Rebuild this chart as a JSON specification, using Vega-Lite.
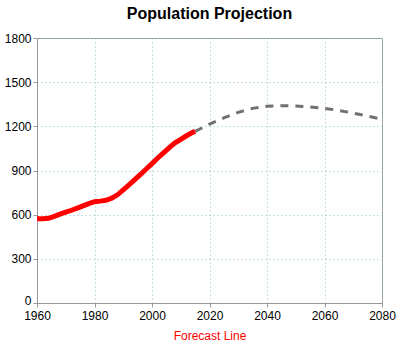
{
  "$schema": "https://vega.github.io/schema/vega-lite/v6.json",
  "autosize": "none",
  "padding": {"left": 37, "top": 38, "right": 18, "bottom": 47},
  "width": 345,
  "height": 265,
  "title": {"text": "Population Projection", "font": "Liberation Sans", "fontSize": 16, "fontWeight": "bold", "color": "#000", "offset": 10},
  "config": {
    "view": {"stroke": "#999999", "strokeWidth": 1},
    "axis": {"labelFont": "Liberation Sans", "labelFontSize": 12, "labelColor": "#000", "domainColor": "#999999", "tickColor": "#999999", "tickSize": 4, "gridColor": "#8fc9c9", "gridDash": [1, 3], "gridWidth": 1}
  },
  "datasets": {
    "hist": [
      {"year": 1960, "pop": 573}, {"year": 1962, "pop": 573}, {"year": 1964, "pop": 575},
      {"year": 1966, "pop": 588}, {"year": 1968, "pop": 604}, {"year": 1970, "pop": 617},
      {"year": 1972, "pop": 630}, {"year": 1974, "pop": 645}, {"year": 1976, "pop": 660},
      {"year": 1978, "pop": 675}, {"year": 1980, "pop": 688}, {"year": 1982, "pop": 692},
      {"year": 1984, "pop": 698}, {"year": 1986, "pop": 712}, {"year": 1988, "pop": 735},
      {"year": 1990, "pop": 768}, {"year": 1992, "pop": 802}, {"year": 1994, "pop": 838},
      {"year": 1996, "pop": 873}, {"year": 1998, "pop": 910}, {"year": 2000, "pop": 947},
      {"year": 2002, "pop": 985}, {"year": 2004, "pop": 1020}, {"year": 2006, "pop": 1055},
      {"year": 2008, "pop": 1088}, {"year": 2010, "pop": 1112}, {"year": 2012, "pop": 1136},
      {"year": 2014, "pop": 1158}, {"year": 2015, "pop": 1166}
    ],
    "forecast": [
      {"year": 2015, "pop": 1166}, {"year": 2020, "pop": 1215}, {"year": 2025, "pop": 1258},
      {"year": 2030, "pop": 1295}, {"year": 2035, "pop": 1322}, {"year": 2040, "pop": 1336},
      {"year": 2045, "pop": 1340}, {"year": 2050, "pop": 1338}, {"year": 2055, "pop": 1332},
      {"year": 2060, "pop": 1322}, {"year": 2065, "pop": 1308}, {"year": 2070, "pop": 1290},
      {"year": 2075, "pop": 1270}, {"year": 2080, "pop": 1248}
    ]
  },
  "encoding": {
    "x": {"field": "year", "type": "quantitative", "scale": {"domain": [1960, 2080], "nice": false, "zero": false},
      "axis": {"values": [1960, 1980, 2000, 2020, 2040, 2060, 2080], "format": "d", "title": "Forecast Line", "titleColor": "#ff0000", "titleFont": "Liberation Sans", "titleFontSize": 12, "titleFontWeight": "normal", "titlePadding": 9, "labelPadding": 3, "labelFlush": false}},
    "y": {"field": "pop", "type": "quantitative", "scale": {"domain": [0, 1800], "nice": false},
      "axis": {"values": [0, 300, 600, 900, 1200, 1500, 1800], "format": "d", "title": null, "labelPadding": 2,
        "labelOffset": {"condition": {"test": "datum.value === 0", "value": -3}, "value": 0}}}
  },
  "layer": [
    {"data": {"name": "forecast"}, "mark": {"type": "line", "color": "#707070", "strokeWidth": 3, "strokeDash": [8, 7]}},
    {"data": {"name": "hist"}, "mark": {"type": "line", "color": "#ff0000", "strokeWidth": 5}}
  ]
}
